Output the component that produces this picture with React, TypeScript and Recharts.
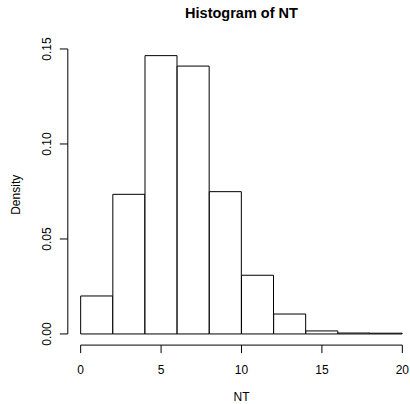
import { BarChart, Bar, XAxis, YAxis, ReferenceLine } from "recharts";

// histogram of NT: bin midpoints (width 2) and densities
const binMids = [1, 3, 5, 7, 9, 11, 13, 15, 17, 19];
const density = [0.02, 0.0735, 0.1465, 0.141, 0.0749, 0.0309, 0.0105, 0.0016, 0.0005, 0.0004];
const xTicks = [0, 5, 10, 15, 20];
const yTicks = [0, 0.05, 0.1, 0.15];

const font = "'Liberation Sans', Arial, sans-serif";

const data = binMids.map((mid, i) => ({ mid, density: density[i] }));

// R-style 4% padding of the axis ranges
const xMin = 0;
const xMax = 20;
const xPad = (xMax - xMin) * 0.04;
const yMax = Math.max(...density);
const yPad = yMax * 0.04;

function YTick({ x, y, payload }: any) {
  return (
    <text
      x={x}
      y={y}
      transform={`rotate(-90 ${x} ${y})`}
      textAnchor="middle"
      fontSize={12}
      fontFamily={font}
      fill="#000"
    >
      {Number(payload.value).toFixed(2)}
    </text>
  );
}

export default function App() {
  return (
    <div style={{ position: "relative", width: 410, height: 404, overflow: "hidden", background: "#fff" }}>
      <style>{"body{margin:0}"}</style>
      <BarChart
        width={420}
        height={404}
        data={data}
        margin={{ top: 44.5, right: 4.8, left: 0, bottom: 0 }}
        barCategoryGap={0}
        barGap={0}
      >
        <XAxis
          dataKey="mid"
          type="number"
          domain={[xMin - xPad, xMax + xPad]}
          allowDataOverflow
          ticks={xTicks}
          height={58.9}
          axisLine={false}
          tickLine={{ stroke: "#000" }}
          tickSize={8}
          tickMargin={12.7}
          tick={{ fontSize: 12, fill: "#000", fontFamily: font }}
        />
        <YAxis
          type="number"
          domain={[-yPad, yMax + yPad]}
          allowDataOverflow
          ticks={yTicks}
          width={67.8}
          axisLine={false}
          tickLine={{ stroke: "#000" }}
          tickSize={8}
          tickMargin={9}
          tick={<YTick />}
        />
        <ReferenceLine
          segment={[
            { x: xMin, y: -yPad },
            { x: xMax, y: -yPad },
          ]}
          stroke="#000"
          ifOverflow="visible"
        />
        <ReferenceLine
          segment={[
            { x: xMin - xPad, y: yTicks[0] },
            { x: xMin - xPad, y: yTicks[yTicks.length - 1] },
          ]}
          stroke="#000"
          ifOverflow="visible"
        />
        <Bar dataKey="density" fill="#fff" stroke="#000" strokeWidth={1} isAnimationActive={false} />
      </BarChart>
      <svg
        width={410}
        height={404}
        style={{ position: "absolute", left: 0, top: 0, pointerEvents: "none" }}
      >
        <text x={241.5} y={18.3} textAnchor="middle" fontSize={14.5} fontWeight="bold" fontFamily={font} fill="#000">
          Histogram of NT
        </text>
        <text
          x={20}
          y={194.8}
          transform="rotate(-90 20 194.8)"
          textAnchor="middle"
          fontSize={12}
          fontFamily={font}
          fill="#000"
        >
          Density
        </text>
        <text x={241.5} y={401} textAnchor="middle" fontSize={12} fontFamily={font} fill="#000">
          NT
        </text>
      </svg>
    </div>
  );
}
